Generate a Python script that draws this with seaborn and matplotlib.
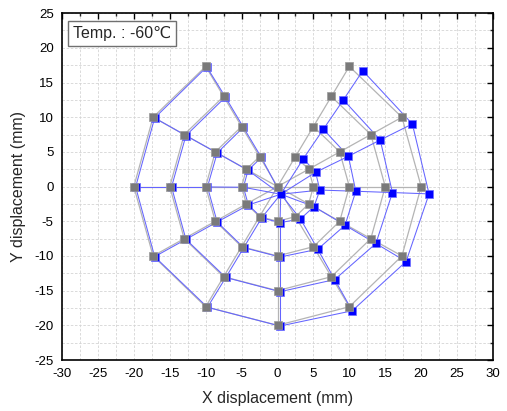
import matplotlib
matplotlib.use("Agg")
import matplotlib.pyplot as plt
import seaborn as sns
import pandas as pd
from matplotlib.collections import LineCollection
from matplotlib.ticker import MultipleLocator

sns.set_theme(style="white")
plt.rcParams['font.family'] = ['Liberation Sans', 'DejaVu Sans']
plt.rcParams['axes.unicode_minus'] = False

# Spoke angles (deg) and ring radii (mm) of the mesh; point index = 1 + spoke*4 + ring, 0 = centre
spoke_angles = [0, 30, 60, 120, 150, 180, 210, 240, 270, 300, 330]
ring_radii = [5, 10, 15, 20]

# Undeformed (grey) node positions
grey_x = [0.0,
          5.0, 10.0, 15.0, 20.0,
          4.33, 8.66, 12.99, 17.32,
          2.5, 5.0, 7.5, 10.0,
          -2.5, -5.0, -7.5, -10.0,
          -4.33, -8.66, -12.99, -17.32,
          -5.0, -10.0, -15.0, -20.0,
          -4.33, -8.66, -12.99, -17.32,
          -2.5, -5.0, -7.5, -10.0,
          0.0, 0.0, 0.0, 0.0,
          2.5, 5.0, 7.5, 10.0,
          4.33, 8.66, 12.99, 17.32]
grey_y = [0.0,
          0.0, 0.0, 0.0, 0.0,
          2.5, 5.0, 7.5, 10.0,
          4.33, 8.66, 12.99, 17.32,
          4.33, 8.66, 12.99, 17.32,
          2.5, 5.0, 7.5, 10.0,
          0.0, 0.0, 0.0, 0.0,
          -2.5, -5.0, -7.5, -10.0,
          -4.33, -8.66, -12.99, -17.32,
          -5.0, -10.0, -15.0, -20.0,
          -4.33, -8.66, -12.99, -17.32,
          -2.5, -5.0, -7.5, -10.0]

# Deformed (blue) node positions at -60 C
blue_x = [0.45,
          5.9, 10.9, 16.0, 21.1,
          5.3, 9.87, 14.3, 18.77,
          3.6, 6.38, 9.17, 11.87,
          -2.25, -4.75, -7.25, -9.85,
          -4.1, -8.4, -12.75, -17.1,
          -4.75, -9.75, -14.75, -19.75,
          -4.05, -8.4, -12.75, -17.1,
          -2.2, -4.7, -7.2, -9.75,
          0.35, 0.35, 0.35, 0.35,
          3.2, 5.6, 7.96, 10.4,
          5.08, 9.4, 13.7, 17.9]
blue_y = [-1.1,
          -0.5, -0.67, -0.86, -1.05,
          2.06, 4.37, 6.72, 9.03,
          4.03, 8.26, 12.5, 16.7,
          4.2, 8.55, 12.9, 17.25,
          2.35, 4.85, 7.35, 9.9,
          -0.1, -0.05, -0.05, -0.05,
          -2.65, -5.1, -7.6, -10.1,
          -4.5, -8.8, -13.1, -17.4,
          -5.2, -10.15, -15.15, -20.1,
          -4.66, -9.03, -13.4, -17.9,
          -2.88, -5.57, -8.2, -10.8]

x_ticks = list(range(-30, 31, 5))
y_ticks = list(range(-25, 26, 5))
label_text = "Temp. : -60\u2103"

# Connectivity: radial spokes and ring arcs between neighbouring spokes
ring_pairs = [(0, 1), (1, 2), (3, 4), (4, 5), (5, 6), (6, 7), (7, 8), (8, 9), (9, 10), (10, 0)]
edges = []
for s in range(len(spoke_angles)):
    prev = 0
    for r in range(len(ring_radii)):
        idx = 1 + s * 4 + r
        edges.append((prev, idx))
        prev = idx
for a, b in ring_pairs:
    for r in range(len(ring_radii)):
        edges.append((1 + a * 4 + r, 1 + b * 4 + r))

fig = plt.figure(figsize=(5.07, 4.11), dpi=100)
ax = fig.add_axes([0.1223, 0.124, 0.8501, 0.844])

def segs(xs, ys):
    return [[(xs[i], ys[i]), (xs[j], ys[j])] for i, j in edges]

ax.add_collection(LineCollection(segs(grey_x, grey_y), colors="#b4b4b4", linewidths=0.9, zorder=2))
ax.add_collection(LineCollection(segs(blue_x, blue_y), colors="#6464ff", linewidths=0.75, zorder=3))

df_blue = pd.DataFrame({"x": blue_x, "y": blue_y})
df_grey = pd.DataFrame({"x": grey_x, "y": grey_y})
sns.scatterplot(data=df_blue, x="x", y="y", marker="s", s=30, color="#0000ff",
                edgecolor="#7070ff", linewidth=0.5, ax=ax, zorder=4)
sns.scatterplot(data=df_grey, x="x", y="y", marker="s", s=30, color="#7a7a7a",
                edgecolor="#9a9a9a", linewidth=0.5, ax=ax, zorder=5)

ax.set_xlim(-30, 30)
ax.set_ylim(-25, 25)
ax.set_xticks(x_ticks)
ax.set_yticks(y_ticks)
ax.xaxis.set_minor_locator(MultipleLocator(2.5))
ax.yaxis.set_minor_locator(MultipleLocator(2.5))
ax.grid(True, which="both", linestyle=(0, (3, 2)), color="#d4d4d4", linewidth=0.6, zorder=0)
ax.set_axisbelow(True)
ax.tick_params(which="major", direction="in", length=4.5, width=1, top=True, right=True,
               labelsize=9.5, colors="black", pad=6)
ax.tick_params(which="minor", direction="in", length=2.5, width=1, top=True, right=True)
for sp in ax.spines.values():
    sp.set_color("black")
    sp.set_linewidth(1.2)
ax.set_xlabel("X displacement (mm)", fontsize=11.5, labelpad=8)
ax.set_ylabel("Y displacement (mm)", fontsize=11.5, labelpad=6)

ax.text(0.139, 0.942, label_text, transform=ax.transAxes, ha="center", va="center",
        fontsize=11.5, zorder=6,
        bbox=dict(boxstyle="square,pad=0.3", facecolor="white", edgecolor="#707070", linewidth=1))

fig.savefig("out.png", dpi=100)
